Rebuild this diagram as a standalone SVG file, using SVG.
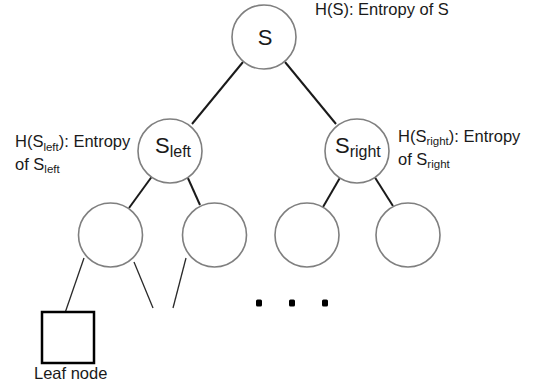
<svg xmlns="http://www.w3.org/2000/svg" width="537" height="385" viewBox="0 0 537 385">
<style>
.node{fill:#fff;stroke:#7f7f7f;stroke-width:1.6}
.t{font-family:"Liberation Sans",Arial,sans-serif;fill:#1a1a1a}
.lab{font-size:16.5px}
.sub{font-size:11.5px}
.big{font-size:22px}
.nsub{font-size:16px}
.edge{stroke:#1a1a1a;stroke-width:2;fill:none}
.thin{stroke:#2a2a2a;stroke-width:1.3;fill:none}
.dot{fill:#000}
</style>
<rect width="537" height="385" fill="#fff"/>
<g id="connectors">
<line class="edge" x1="243" y1="62" x2="192" y2="124"/>
<line class="edge" x1="285" y1="62" x2="336" y2="124"/>
<line class="edge" x1="153" y1="175" x2="129" y2="208"/>
<line class="edge" x1="187" y1="176" x2="200" y2="205"/>
<line class="edge" x1="341" y1="176" x2="323" y2="207"/>
<line class="edge" x1="374" y1="176" x2="393" y2="206"/>
<line class="thin" x1="84" y1="258" x2="65" y2="313"/>
<line class="thin" x1="134" y1="262" x2="153" y2="308"/>
<line class="thin" x1="186" y1="258" x2="173" y2="308"/>
</g>
<g id="root">
<circle class="node" cx="264" cy="37" r="32"/>
<text class="t big" x="265" y="45" text-anchor="middle">S</text>
<text class="t lab" x="315" y="15">H(S): Entropy of S</text>
</g>
<g id="s-left">
<circle class="node" cx="170" cy="151" r="32"/>
<text class="t big" x="155" y="153">S<tspan class="nsub" dy="4">left</tspan></text>
<text class="t lab" x="15" y="147">H(S<tspan class="sub" dy="4">left</tspan><tspan dy="-4">): Entropy</tspan></text>
<text class="t lab" x="15" y="170">of S<tspan class="sub" dy="3">left</tspan></text>
</g>
<g id="s-right">
<circle class="node" cx="357" cy="151" r="32"/>
<text class="t big" x="335" y="153">S<tspan class="nsub" dy="4">right</tspan></text>
<text class="t lab" x="398" y="142">H(S<tspan class="sub" dy="3">right</tspan><tspan dy="-3">): Entropy</tspan></text>
<text class="t lab" x="398" y="165">of S<tspan class="sub" dy="3">right</tspan></text>
</g>
<g id="child1"><circle class="node" cx="110.5" cy="235" r="32"/></g>
<g id="child2"><circle class="node" cx="214.5" cy="235" r="32"/></g>
<g id="child3"><circle class="node" cx="307" cy="235" r="32"/></g>
<g id="child4"><circle class="node" cx="408" cy="235" r="32"/></g>
<g id="leaf">
<rect x="42" y="312" width="52" height="51" fill="#fff" stroke="#000" stroke-width="2.5"/>
<text class="t lab" x="34" y="379">Leaf node</text>
</g>
<g id="ellipsis">
<rect class="dot" x="256" y="299.5" width="6" height="7" rx="1.5"/>
<rect class="dot" x="289" y="299.5" width="6" height="7" rx="1.5"/>
<rect class="dot" x="322" y="299.5" width="6" height="7" rx="1.5"/>
</g>
</svg>
